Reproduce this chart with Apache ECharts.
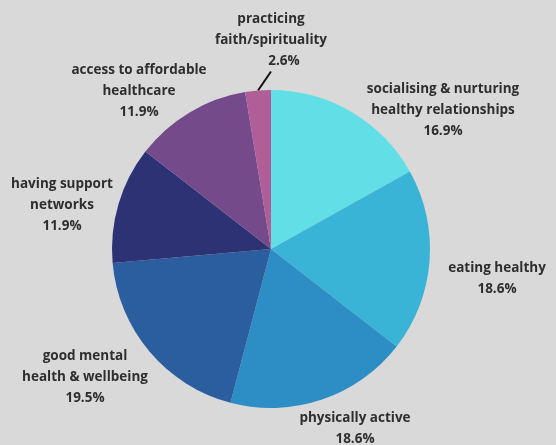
<!DOCTYPE html>
<html>
<head>
<meta charset="utf-8">
<script src="https://cdn.jsdelivr.net/npm/echarts@6/dist/echarts.min.js"></script>
<style>
html,body{margin:0;padding:0;background:#d9d9d9;}
#c{width:556px;height:445px;}
</style>
</head>
<body>
<div id="c"></div>
<script>
const categories = [
  "socialising & nurturing\nhealthy relationships",
  "eating healthy",
  "physically active",
  "good mental\nhealth & wellbeing",
  "having support\nnetworks",
  "access to affordable\nhealthcare",
  "practicing\nfaith/spirituality"
];
const values = [16.9, 18.6, 18.6, 19.5, 11.9, 11.9, 2.6];
const colors = ["#62dfe6", "#3ab4d6", "#2c8ec4", "#2a5e9f", "#2d3275", "#744a8b", "#b05d98"];

// label anchor positions (layout only)
const labelPos = [
  [443, 110], [497, 279], [355, 429], [85, 377], [62, 205], [139, 91], [271, 40]
];

const txt = { fontFamily: 'Open Sans', fontWeight: 700, fontSize: 13.5, lineHeight: 21, color: '#2e2e2e' };

const chart = echarts.init(document.getElementById('c'));
chart.setOption({
  backgroundColor: '#d9d9d9',
  animation: false,
  series: [{
    type: 'pie',
    center: [271, 249],
    radius: [0, 159],
    startAngle: 90,
    clockwise: true,
    data: categories.map((n, i) => ({
      name: n, value: values[i],
      itemStyle: { color: colors[i] },
      labelLine: { show: i === 6, lineStyle: { color: '#111', width: 2 }, length: 8, length2: 0 }
    })),
    label: Object.assign({
      show: true,
      overflow: 'none',
      formatter: p => p.dataIndex === 6
        ? p.name + '\n{p|' + p.value.toFixed(1) + '%}'
        : p.name + '\n' + p.value.toFixed(1) + '%',
      align: 'center',
      rich: { p: Object.assign({ padding: [0, 0, 0, 26] }, txt) }
    }, txt),
    labelLine: { show: false },
    labelLayout: p => ({
      x: labelPos[p.dataIndex][0],
      y: labelPos[p.dataIndex][1],
      align: 'center',
      verticalAlign: 'middle',
      moveOverlap: null
    })
  }]
});
</script>
</body>
</html>
